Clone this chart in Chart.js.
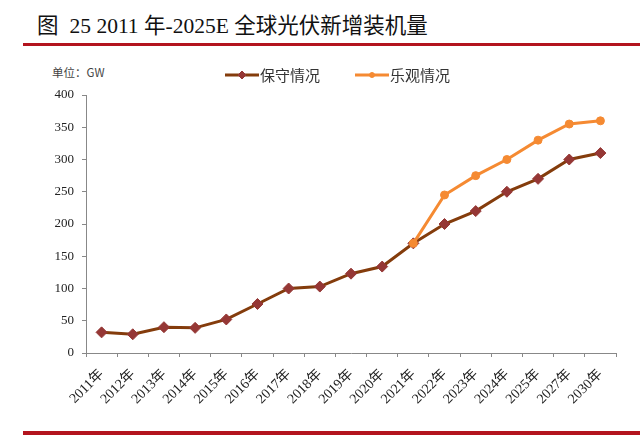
<!DOCTYPE html>
<html>
<head>
<meta charset="utf-8">
<script src="https://cdn.jsdelivr.net/npm/chart.js@4.4.0/dist/chart.umd.min.js"></script>
<style>
html, body { margin: 0; padding: 0; background: #fff; }
#wrap { position: relative; width: 640px; height: 436px; overflow: hidden; }
#title { position: absolute; left: 37px; top: 8px; font: 21.5px "Liberation Serif", "Times New Roman", "Noto Sans CJK SC", serif; color: #111; white-space: nowrap; }
#title .fig { margin-right: 11px; }
#topLine { position: absolute; left: 23px; right: 0; top: 43px; height: 3px; background: #b3141e; }
#unit { position: absolute; left: 52px; top: 64px; font: 11.5px "Noto Sans CJK SC", serif; color: #444; white-space: nowrap; }
#bottomLine { position: absolute; left: 23px; right: 0; top: 431px; height: 4px; background: #b3141e; }
canvas { position: absolute; left: 0; top: 0; }
</style>
</head>
<body>
<div id="wrap">
    <div id="title"><span class="fig">图</span>25 2011 年-2025E 全球光伏新增装机量</div>
    <div id="topLine"></div>
    <div id="unit">单位：GW</div>
    <canvas id="chart" width="640" height="436"></canvas>
    <div id="bottomLine"></div>
</div>
<script>
// years on the x axis
const years = ["2011年", "2012年", "2013年", "2014年", "2015年", "2016年", "2017年", "2018年", "2019年",
    "2020年", "2021年", "2022年", "2023年", "2024年", "2025年", "2027年", "2030年"];

// GW
const conservative = [32, 29, 40, 39, 52, 76, 100, 103, 123, 134, 170, 200, 220, 250, 270, 300, 310];
const optimistic = [null, null, null, null, null, null, null, null, null, null, 170, 245, 275, 300, 330, 355, 360];

const seriesNames = ["保守情况", "乐观情况"];
const yMin = 0;
const yMax = 400;
const yStep = 50;

const serif = '"Liberation Serif", "Times New Roman", "Noto Sans CJK SC", serif';

// legend drawn as line + marker + text, like the original
const legendX = [225, 355];
const legendY = 75;

const lineLegend = {
    id: "lineLegend",
    afterDraw(chart) {
        const ctx = chart.ctx;
        chart.data.datasets.forEach((ds, i) => {
            const x = legendX[i];
            ctx.save();
            ctx.strokeStyle = ds.borderColor;
            ctx.lineWidth = 3;
            ctx.beginPath();
            ctx.moveTo(x, legendY);
            ctx.lineTo(x + 34, legendY);
            ctx.stroke();
            ctx.fillStyle = ds.pointBackgroundColor;
            ctx.strokeStyle = ds.pointBorderColor;
            ctx.lineWidth = 1;
            Chart.helpers.drawPoint(ctx, {
                pointStyle: ds.pointStyle,
                radius: ds.pointRadius - 1.5,
                borderWidth: 1,
                rotation: 0
            }, x + 17, legendY);
            ctx.fillStyle = "#333";
            ctx.font = '15px "Noto Sans CJK SC", sans-serif';
            ctx.textBaseline = "middle";
            ctx.textAlign = "left";
            ctx.fillText(ds.label, x + 35, legendY);
            ctx.restore();
        });
    }
};

const ctx = document.getElementById("chart").getContext("2d");
const chart = new Chart(ctx, {
    type: "line",
    data: {
        labels: years,
        datasets: [
            {
                label: seriesNames[0],
                data: conservative,
                borderColor: "#843c0c",
                borderWidth: 3,
                pointStyle: "rectRot",
                pointRadius: 5.5,
                pointBackgroundColor: "#953735",
                pointBorderColor: "#953735",
                pointBorderWidth: 1,
                tension: 0,
                order: 2
            },
            {
                label: seriesNames[1],
                data: optimistic,
                borderColor: "#f58a32",
                borderWidth: 3,
                pointStyle: "circle",
                pointRadius: 4,
                pointBackgroundColor: "#f58a32",
                pointBorderColor: "#f58a32",
                pointBorderWidth: 1,
                tension: 0,
                spanGaps: false,
                order: 1
            }
        ]
    },
    options: {
        responsive: false,
        animation: false,
        layout: {
            padding: { top: 95, left: 20, right: 24, bottom: 0 }
        },
        plugins: {
            legend: { display: false },
            tooltip: { enabled: false }
        },
        scales: {
            x: {
                offset: true,
                grid: {
                    offset: true,
                    drawOnChartArea: false,
                    drawTicks: true,
                    tickLength: 4,
                    color: "#888"
                },
                border: { display: true, color: "#888", width: 1 },
                ticks: {
                    color: "#222",
                    font: { family: serif, size: 14 },
                    minRotation: 45,
                    maxRotation: 45,
                    autoSkip: false,
                    padding: 9
                },
                afterFit(scale) {
                    scale.height = 83;
                }
            },
            y: {
                min: yMin,
                max: yMax,
                grid: {
                    drawOnChartArea: false,
                    drawTicks: true,
                    tickLength: 4,
                    color: "#888"
                },
                border: { display: true, color: "#888", width: 1 },
                ticks: {
                    stepSize: yStep,
                    color: "#222",
                    font: { family: serif, size: 13 },
                    padding: 8
                },
                afterFit(scale) {
                    scale.width = 66;
                }
            }
        }
    },
    plugins: [lineLegend]
});
</script>
</body>
</html>
